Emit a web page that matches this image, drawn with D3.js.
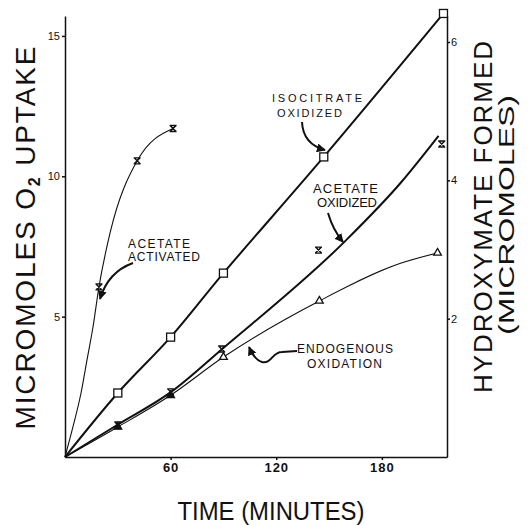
<!DOCTYPE html>
<html>
<head>
<meta charset="utf-8">
<script src="https://cdnjs.cloudflare.com/ajax/libs/d3/7.8.5/d3.min.js"></script>
<style>
    body { margin: 0; background: #fff; }
    svg { display: block; font-family: "Liberation Sans", Arial, sans-serif; }
    .axe path, .axe line { stroke: #111; stroke-width: 1.5; }
    .axe text { fill: #111; }
</style>
</head>
<body>
<script>
// temps en minutes, O2 en micromoles
const ticksTemps = [60, 120, 180];
const ticksO2 = [5, 10, 15];
const ticksHydrox = [2, 4, 6];

// isocitrate oxydé (carrés)
const isoTemps = [0, 30, 60, 90, 147, 215];
const isoO2 = [0, 2.28, 4.27, 6.55, 10.69, 15.8];

// acétate activé (croix) + tracé de la courbe à main levée
const actTemps = [19.3, 41, 61.4];
const actO2 = [6.06, 10.55, 11.7];
const actCourbeTemps = [0, 4.5, 9.1, 12.5, 15.9, 19.3, 25.6, 41, 61.4];
const actCourbeO2 = [0, 1.07, 2.28, 3.46, 4.63, 6.06, 7.98, 10.55, 11.7];

// acétate oxydé (croix) + courbe ajustée
const oxTemps = [30, 60, 89, 144, 214];
const oxO2 = [1.14, 2.32, 3.85, 7.37, 11.15];
const oxCourbeTemps = [0, 29.6, 60.3, 89.3, 159.3, 190.6, 212.2];
const oxCourbeO2 = [0, 1.14, 2.32, 3.85, 7.70, 9.76, 11.44];

// oxydation endogène (triangles)
const endoTemps = [30, 60, 90, 144.5, 211.6];
const endoO2 = [1.07, 2.2, 3.56, 5.56, 7.27];
const endoCourbeTemps = [0, 30, 60, 90, 144.5, 190.6, 211.6];
const endoCourbeO2 = [0, 1.07, 2.2, 3.56, 5.56, 6.9, 7.27];

const zip = (a, b) => a.map((d, i) => [d, b[i]]);

const largeur = 529, hauteur = 525;

const svg = d3.select("body").append("svg")
    .attr("width", largeur)
    .attr("height", hauteur);

// pointe de flèche
svg.append("defs").append("marker")
    .attr("id", "fleche")
    .attr("viewBox", "0 0 10 10")
    .attr("refX", 9).attr("refY", 5)
    .attr("markerWidth", 4.5).attr("markerHeight", 4.5)
    .attr("orient", "auto")
    .append("path")
    .attr("d", "M0,0L10,5L0,10z")
    .attr("fill", "#111");

// échelles
const echelleX = d3.scaleLinear().domain([0, 217]).range([65, 447]);
const echelleY = d3.scaleLinear().domain([0, 15.71]).range([457, 16]);
const echelleYD = d3.scaleLinear().domain([0, 6.376]).range([457, 16]);

// axes
svg.append("g")
    .attr("class", "axe")
    .attr("transform", "translate(0," + echelleY(0) + ")")
    .call(d3.axisBottom(echelleX).tickValues(ticksTemps).tickSize(3).tickSizeOuter(0).tickPadding(3))
    .selectAll("text")
    .attr("font-size", 13)
    .attr("font-weight", "bold")
    .attr("letter-spacing", 1);

svg.append("g")
    .attr("class", "axe")
    .attr("transform", "translate(" + echelleX(0) + ",0)")
    .call(d3.axisLeft(echelleY).tickValues(ticksO2).tickSize(3).tickSizeOuter(0).tickPadding(2))
    .selectAll("text")
    .attr("font-size", 11);

svg.append("g")
    .attr("class", "axe")
    .attr("transform", "translate(" + echelleX(217) + ",0)")
    .call(d3.axisRight(echelleYD).tickValues(ticksHydrox).tickFormat(d3.format("d"))
        .tickSize(3).tickSizeOuter(0).tickPadding(1))
    .selectAll("text")
    .attr("font-size", 11);

svg.selectAll(".axe .domain").attr("fill", "none");

// courbes
const ligne = d3.line()
    .x(d => echelleX(d[0]))
    .y(d => echelleY(d[1]))
    .curve(d3.curveMonotoneX);

const ligneLisse = d3.line()
    .x(d => echelleX(d[0]))
    .y(d => echelleY(d[1]))
    .curve(d3.curveCatmullRom);

const courbes = [
    { pts: zip(isoTemps, isoO2), ep: 2, gen: ligneLisse },
    { pts: zip(actCourbeTemps, actCourbeO2), ep: 1.1, gen: ligne },
    { pts: zip(oxCourbeTemps, oxCourbeO2), ep: 2, gen: ligne },
    { pts: zip(endoCourbeTemps, endoCourbeO2), ep: 1.1, gen: ligne }
];

svg.selectAll(".courbe").data(courbes).enter()
    .append("path")
    .attr("class", "courbe")
    .attr("d", d => d.gen(d.pts))
    .attr("fill", "none")
    .attr("stroke", "#111")
    .attr("stroke-width", d => d.ep);

// marqueurs
const sablier = "M-3,-3L3,3M-3,3L3,-3M-3.5,-3H3.5M-3.5,3H3.5";

svg.selectAll(".tri").data(zip(endoTemps, endoO2)).enter()
    .append("path")
    .attr("class", "tri")
    .attr("transform", d => "translate(" + echelleX(d[0]) + "," + echelleY(d[1]) + ")")
    .attr("d", d3.symbol(d3.symbolTriangle, 26))
    .attr("fill", (d, i) => i < 2 ? "#111" : "#fff")
    .attr("stroke", "#111")
    .attr("stroke-width", 1.3);

svg.selectAll(".croix").data(zip(actTemps, actO2).concat(zip(oxTemps, oxO2))).enter()
    .append("path")
    .attr("class", "croix")
    .attr("transform", d => "translate(" + echelleX(d[0]) + "," + echelleY(d[1]) + ")")
    .attr("d", sablier)
    .attr("fill", "none")
    .attr("stroke", "#111")
    .attr("stroke-width", 1.4);

svg.selectAll(".carre").data(zip(isoTemps, isoO2).slice(1)).enter()
    .append("rect")
    .attr("class", "carre")
    .attr("x", d => echelleX(d[0]) - 4)
    .attr("y", d => echelleY(d[1]) - 4)
    .attr("width", 8)
    .attr("height", 8)
    .attr("fill", "#fff")
    .attr("stroke", "#111")
    .attr("stroke-width", 1.3);

// annotations
const notes = [
    { t: "ACETATE", x: 128, y: 248, l: 62, s: 12 },
    { t: "ACTIVATED", x: 128, y: 261, l: 72, s: 12 },
    { t: "ISOCITRATE", x: 272, y: 102, l: 90, s: 11 },
    { t: "OXIDIZED", x: 277, y: 117, l: 65, s: 11 },
    { t: "ACETATE", x: 313, y: 193, l: 65, s: 13 },
    { t: "OXIDIZED", x: 317, y: 207, l: 60, s: 13 },
    { t: "ENDOGENOUS", x: 297, y: 353, l: 96, s: 12 },
    { t: "OXIDATION", x: 307, y: 368, l: 75, s: 12 }
];

svg.selectAll(".note").data(notes).enter()
    .append("text")
    .attr("class", "note")
    .attr("x", d => d.x)
    .attr("y", d => d.y)
    .attr("font-size", d => d.s)
    .attr("textLength", d => d.l)
    .attr("lengthAdjust", "spacing")
    .attr("fill", "#111")
    .text(d => d.t);

const fleches = [
    "M133,263Q108,272 100,299",
    "M302,122Q303,144 325,150",
    "M328,213Q333,230 343,242",
    "M297,351L282,352C272,352 272,364 262,362C256,360 252,354 249,347"
];

svg.selectAll(".fleche").data(fleches).enter()
    .append("path")
    .attr("class", "fleche")
    .attr("d", d => d)
    .attr("fill", "none")
    .attr("stroke", "#111")
    .attr("stroke-width", 2)
    .attr("marker-end", "url(#fleche)");

// titres des axes
const titreG = svg.append("text")
    .attr("transform", "translate(35,238) rotate(-90)")
    .attr("text-anchor", "middle")
    .attr("font-size", 28)
    .attr("textLength", 383)
    .attr("lengthAdjust", "spacing")
    .attr("fill", "#111");
titreG.append("tspan").text("MICROMOLES O");
titreG.append("tspan").attr("font-size", 16).attr("font-weight", "bold").attr("dy", 5).text("2");
titreG.append("tspan").attr("dy", -5).text(" UPTAKE");

svg.append("text")
    .attr("transform", "translate(492,217) rotate(-90)")
    .attr("text-anchor", "middle")
    .attr("font-size", 26)
    .attr("textLength", 352)
    .attr("lengthAdjust", "spacing")
    .attr("fill", "#111")
    .text("HYDROXYMATE FORMED");

svg.append("text")
    .attr("transform", "translate(514,215) rotate(-90)")
    .attr("text-anchor", "middle")
    .attr("font-size", 22)
    .attr("textLength", 240)
    .attr("lengthAdjust", "spacingAndGlyphs")
    .attr("fill", "#111")
    .text("(MICROMOLES)");

svg.append("text")
    .attr("x", 271)
    .attr("y", 520)
    .attr("text-anchor", "middle")
    .attr("font-size", 25)
    .attr("textLength", 187)
    .attr("lengthAdjust", "spacingAndGlyphs")
    .attr("fill", "#111")
    .text("TIME (MINUTES)");
</script>
</body>
</html>
